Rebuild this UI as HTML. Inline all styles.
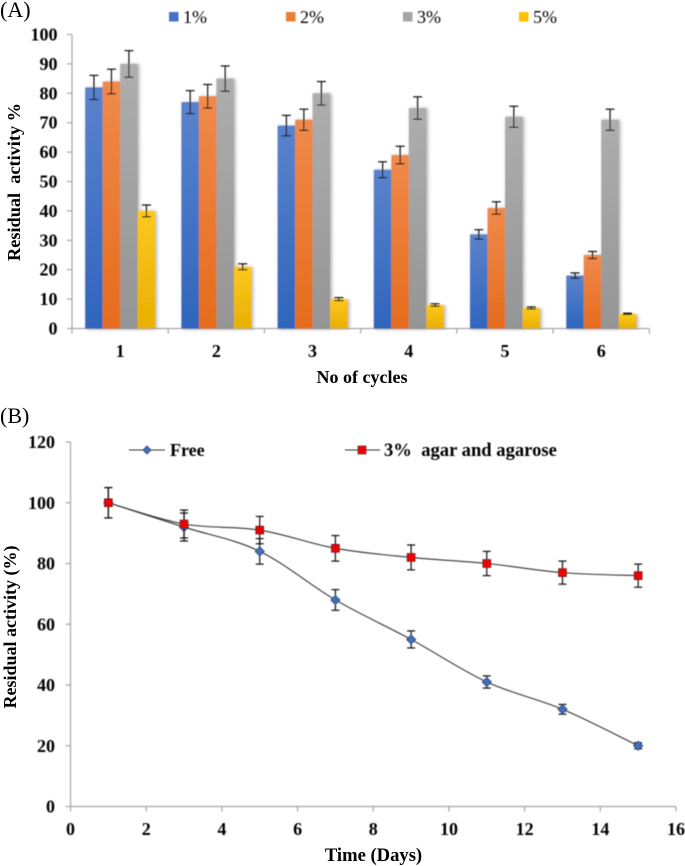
<!DOCTYPE html>
<html>
<head>
<meta charset="utf-8">
<style>
html,body{margin:0;padding:0;background:#fff;}
svg{display:block;font-family:"Liberation Serif",serif;}
text{fill:#000;}
</style>
</head>
<body>
<svg id="fig" width="685" height="866" viewBox="0 0 685 866" xmlns="http://www.w3.org/2000/svg">
<defs>
<linearGradient id="gb" x1="0" y1="0" x2="0" y2="1"><stop offset="0" stop-color="#5b83cc"/><stop offset="1" stop-color="#2f65bd"/></linearGradient>
<linearGradient id="go" x1="0" y1="0" x2="0" y2="1"><stop offset="0" stop-color="#f08a4c"/><stop offset="1" stop-color="#e56c1c"/></linearGradient>
<linearGradient id="gg" x1="0" y1="0" x2="0" y2="1"><stop offset="0" stop-color="#aeaeae"/><stop offset="1" stop-color="#959595"/></linearGradient>
<linearGradient id="gy" x1="0" y1="0" x2="0" y2="1"><stop offset="0" stop-color="#fdc81e"/><stop offset="1" stop-color="#e8b000"/></linearGradient>
<filter id="sh" x="-30%" y="-5%" width="170%" height="110%"><feGaussianBlur stdDeviation="1.8"/></filter>
<filter id="soft" x="-5%" y="-5%" width="110%" height="110%"><feGaussianBlur stdDeviation="0.4"/></filter>
</defs>
<text x="0" y="17" font-size="22">(A)</text>
<text x="0" y="423" font-size="22">(B)</text>
<text transform="translate(20,182) rotate(-90)" text-anchor="middle" font-size="18.3" font-weight="bold" xml:space="preserve">Residual  activity %</text>
<text x="362" y="383" text-anchor="middle" font-size="18" font-weight="bold">No of cycles</text>
<text transform="translate(16,627) rotate(-90)" text-anchor="middle" font-size="18" font-weight="bold">Residual activity (%)</text>
<text x="373.5" y="861" text-anchor="middle" font-size="18.6" font-weight="bold">Time (Days)</text>
<g id="chartA"></g>
<g id="chartB"></g>
</svg>
<script>
const cycleCategories = ['1', '2', '3', '4', '5', '6'];
const barSeriesNames = ['1%', '2%', '3%', '5%'];
const barValues1 = [82, 77, 69, 54, 32, 18];
const barValues2 = [84, 79, 71, 59, 41, 25];
const barValues3 = [90, 85, 80, 75, 72, 71];
const barValues5 = [40, 21, 10, 8, 7, 5];
const barErrors1 = [4.1, 3.9, 3.5, 2.7, 1.6, 0.9];
const barErrors2 = [4.2, 4, 3.6, 3, 2.1, 1.2];
const barErrors3 = [4.5, 4.3, 4, 3.8, 3.6, 3.6];
const barErrors5 = [2, 1, 0.5, 0.4, 0.35, 0.2];
const barTicks = [0, 10, 20, 30, 40, 50, 60, 70, 80, 90, 100];

const lineDays = [1, 3, 5, 7, 9, 11, 13, 15];
const freeValues = [100, 92, 84, 68, 55, 41, 32, 20];
const freeErrors = [5, 4.6, 4.2, 3.4, 2.8, 2, 1.6, 1];
const agarValues = [100, 93, 91, 85, 82, 80, 77, 76];
const agarErrors = [5, 4.6, 4.5, 4.2, 4.1, 4, 3.8, 3.8];
const lineYTicks = [0, 20, 40, 60, 80, 100, 120];
const lineXTicks = [0, 2, 4, 6, 8, 10, 12, 14, 16];
const lineLegendNames = ['Free', '3%  agar and agarose'];

const NS = 'http://www.w3.org/2000/svg';
function mk(parent, tag, attrs, txt) {
  const e = document.createElementNS(NS, tag);
  for (const k in attrs) e.setAttribute(k, attrs[k]);
  if (txt !== undefined) e.textContent = txt;
  parent.appendChild(e);
  return e;
}
function nameIt(e, name) {
  
  
  return e;
}
function errorBar(parent, x, yTop, yBot, cap, name) {
  const g = mk(parent, 'g', {stroke: '#111', 'stroke-width': 1.2, fill: 'none'});
  nameIt(g, name);
  mk(g, 'line', {x1: x, x2: x, y1: yTop, y2: yBot});
  mk(g, 'line', {x1: x - cap, x2: x + cap, y1: yTop, y2: yTop});
  mk(g, 'line', {x1: x - cap, x2: x + cap, y1: yBot, y2: yBot});
}

/* ---------- Chart A ---------- */
const A = document.getElementById('chartA');
const aLeft = 72, aRight = 649.3, aTop = 34.5, aBase = 328.5;
const ay = v => aBase - (v / 100) * (aBase - aTop);
const groupW = (aRight - aLeft) / cycleCategories.length;
const barW = 17.5, groupPad = 13.2;
const barSeries = [
  {v: barValues1, e: barErrors1, f: 'url(#gb)', c: '#4472c4'},
  {v: barValues2, e: barErrors2, f: 'url(#go)', c: '#ed7d31'},
  {v: barValues3, e: barErrors3, f: 'url(#gg)', c: '#a5a5a5'},
  {v: barValues5, e: barErrors5, f: 'url(#gy)', c: '#ffc000'}
];
const axisColor = '#a6a6a6';
const aYAxis = mk(A, 'line', {x1: aLeft, x2: aLeft, y1: aTop, y2: aBase, stroke: axisColor, 'stroke-width': 1.2});
nameIt(aYAxis, 'chart-a-y-axis');
const aXAxis = mk(A, 'line', {x1: aLeft, x2: aRight, y1: aBase, y2: aBase, stroke: axisColor, 'stroke-width': 1.2});
nameIt(aXAxis, 'chart-a-x-axis');
barTicks.forEach(t => {
  mk(A, 'line', {x1: aLeft - 5, x2: aLeft, y1: ay(t), y2: ay(t), stroke: axisColor, 'stroke-width': 1.2});
  const l = mk(A, 'text', {x: 57.5, y: ay(t) + 6, 'text-anchor': 'end', 'font-size': 18, 'font-weight': 'bold'}, String(t));
  nameIt(l, 'chart-a-y-tick-label');
});
for (let i = 0; i <= cycleCategories.length; i++) {
  const x = aLeft + i * groupW;
  mk(A, 'line', {x1: x, x2: x, y1: aBase, y2: aBase + 5, stroke: axisColor, 'stroke-width': 1.2});
}
cycleCategories.forEach((c, i) => {
  const l = mk(A, 'text', {x: aLeft + (i + 0.5) * groupW, y: 357, 'text-anchor': 'middle', 'font-size': 18, 'font-weight': 'bold'}, c);
  nameIt(l, 'chart-a-x-tick-label');
});
barSeries.forEach((s, si) => {
  s.v.forEach((v, i) => {
    const x = aLeft + i * groupW + groupPad + si * barW;
    const y = ay(v);
    mk(A, 'rect', {x: x + 1.5, y: y + 0.5, width: barW, height: aBase - y, fill: '#666', opacity: 0.55, filter: 'url(#sh)'});
  });
});
barSeries.forEach((s, si) => {
  s.v.forEach((v, i) => {
    const x = aLeft + i * groupW + groupPad + si * barW;
    const y = ay(v);
    const r = mk(A, 'rect', {x: x, y: y, width: barW, height: aBase - y, fill: s.f});
    nameIt(r, 'bar-' + barSeriesNames[si].replace('%', 'pct') + '-cycle-' + cycleCategories[i]);
  });
});
barSeries.forEach((s, si) => {
  s.v.forEach((v, i) => {
    const x = aLeft + i * groupW + groupPad + si * barW + barW / 2;
    errorBar(A, x, ay(v + s.e[i]), ay(v - s.e[i]), 4.5, 'error-bar');
  });
});
const legendXs = [169, 286, 403, 519];
barSeriesNames.forEach((n, i) => {
  const g = mk(A, 'g', {});
  nameIt(g, 'legend-entry-' + n.replace('%', 'pct'));
  mk(g, 'rect', {x: legendXs[i], y: 12, width: 9.5, height: 9.5, fill: barSeries[i].c});
  mk(g, 'text', {x: legendXs[i] + 14, y: 23, 'font-size': 18}, n);
});

/* ---------- Chart B ---------- */
const B = document.getElementById('chartB');
const bLeft = 70.5, bRight = 676, bTop = 442, bBase = 806.5;
const bx = v => bLeft + (v / 16) * (bRight - bLeft);
const by = v => bBase - (v / 120) * (bBase - bTop);
const bYAxis = mk(B, 'line', {x1: bLeft, x2: bLeft, y1: bTop, y2: bBase, stroke: axisColor, 'stroke-width': 1.2});
nameIt(bYAxis, 'chart-b-y-axis');
const bXAxis = mk(B, 'line', {x1: bLeft, x2: bRight, y1: bBase, y2: bBase, stroke: axisColor, 'stroke-width': 1.2});
nameIt(bXAxis, 'chart-b-x-axis');
lineYTicks.forEach(t => {
  mk(B, 'line', {x1: bLeft - 5, x2: bLeft, y1: by(t), y2: by(t), stroke: axisColor, 'stroke-width': 1.2});
  const l = mk(B, 'text', {x: 55, y: by(t) + 6, 'text-anchor': 'end', 'font-size': 18, 'font-weight': 'bold'}, String(t));
  nameIt(l, 'chart-b-y-tick-label');
});
lineXTicks.forEach(t => {
  mk(B, 'line', {x1: bx(t), x2: bx(t), y1: bBase, y2: bBase + 5, stroke: axisColor, 'stroke-width': 1.2});
  const l = mk(B, 'text', {x: bx(t), y: 835, 'text-anchor': 'middle', 'font-size': 18, 'font-weight': 'bold'}, String(t));
  nameIt(l, 'chart-b-x-tick-label');
});
function smoothPath(xs, ys) {
  let d = 'M' + bx(xs[0]) + ' ' + by(ys[0]);
  for (let i = 0; i < xs.length - 1; i++) {
    const p0x = bx(xs[Math.max(i - 1, 0)]), p0y = by(ys[Math.max(i - 1, 0)]);
    const p1x = bx(xs[i]), p1y = by(ys[i]);
    const p2x = bx(xs[i + 1]), p2y = by(ys[i + 1]);
    const p3x = bx(xs[Math.min(i + 2, xs.length - 1)]), p3y = by(ys[Math.min(i + 2, xs.length - 1)]);
    d += ' C' + (p1x + (p2x - p0x) / 6) + ' ' + (p1y + (p2y - p0y) / 6) + ' ' +
         (p2x - (p3x - p1x) / 6) + ' ' + (p2y - (p3y - p1y) / 6) + ' ' + p2x + ' ' + p2y;
  }
  return d;
}
function diamond(parent, x, y, r) {
  return mk(parent, 'polygon', {points: [x, y - r, x + r, y, x, y + r, x - r, y].join(' '), fill: '#3f6fbe', stroke: '#2b3f63', 'stroke-width': 0.8});
}
function square(parent, x, y, r) {
  return mk(parent, 'rect', {x: x - r, y: y - r, width: 2 * r, height: 2 * r, fill: '#f00000', stroke: '#4a1a1a', 'stroke-width': 0.8});
}
const freeLine = mk(B, 'path', {d: smoothPath(lineDays, freeValues), fill: 'none', stroke: '#333', 'stroke-width': 1.1});
nameIt(freeLine, 'free-line');
const agarLine = mk(B, 'path', {d: smoothPath(lineDays, agarValues), fill: 'none', stroke: '#333', 'stroke-width': 1.1});
nameIt(agarLine, 'agar-line');
lineDays.forEach((d, i) => {
  errorBar(B, bx(d), by(freeValues[i] + freeErrors[i]), by(freeValues[i] - freeErrors[i]), 4, 'free-error-bar');
  nameIt(diamond(B, bx(d), by(freeValues[i]), 4.6), 'free-point');
});
lineDays.forEach((d, i) => {
  errorBar(B, bx(d), by(agarValues[i] + agarErrors[i]), by(agarValues[i] - agarErrors[i]), 4, 'agar-error-bar');
  nameIt(square(B, bx(d), by(agarValues[i]), 3.9), 'agar-point');
});
const leg1 = mk(B, 'g', {});
nameIt(leg1, 'legend-entry-free');
mk(leg1, 'line', {x1: 129, x2: 165, y1: 450, y2: 450, stroke: '#333', 'stroke-width': 1.1});
diamond(leg1, 147, 450, 4);
mk(leg1, 'text', {x: 170, y: 456, 'font-size': 18, 'font-weight': 'bold'}, lineLegendNames[0]);
const leg2 = mk(B, 'g', {});
nameIt(leg2, 'legend-entry-agar');
mk(leg2, 'line', {x1: 345, x2: 380, y1: 450, y2: 450, stroke: '#333', 'stroke-width': 1.1});
square(leg2, 362, 450, 3.9);
const t2 = mk(leg2, 'text', {x: 384, y: 456, 'font-size': 18.6, 'font-weight': 'bold'}, lineLegendNames[1]);
t2.style.whiteSpace = 'pre';

document.getElementById('fig').querySelectorAll('g#chartA, g#chartB').forEach(g => g.setAttribute('filter', 'url(#soft)'));
</script>
</body>
</html>
